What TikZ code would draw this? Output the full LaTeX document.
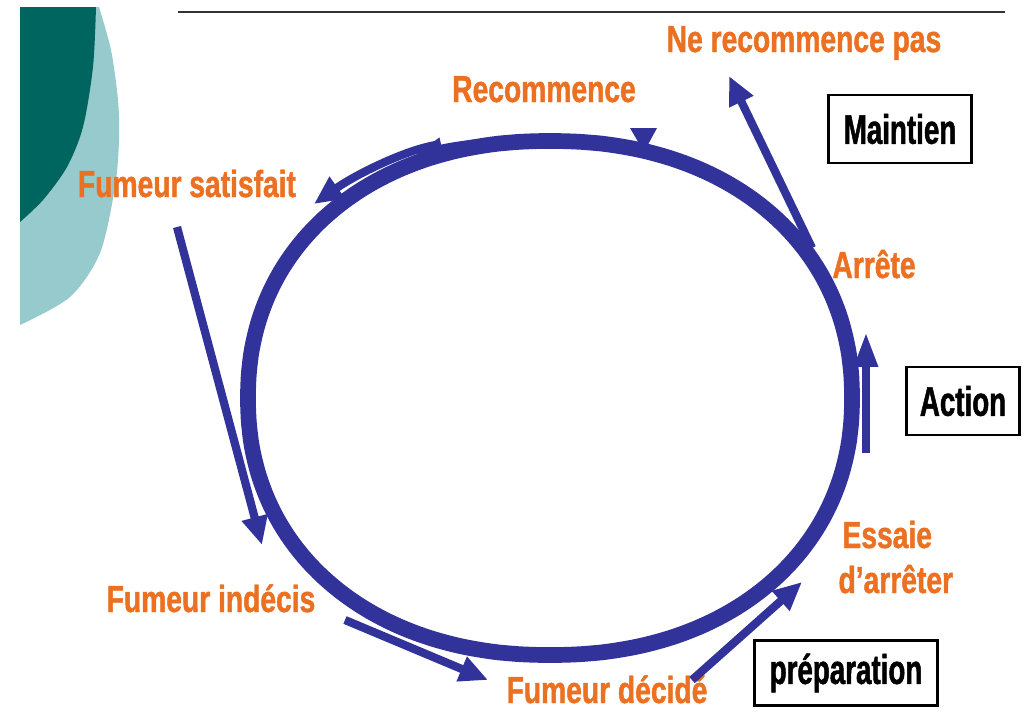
\documentclass[tikz,border=0pt]{standalone}
\usepackage{fontspec}
\setmainfont{Liberation Sans}
\newfontfamily\stagefont[FakeStretch=0.75, FakeBold=1.2]{Liberation Sans}
\newfontfamily\boxfont[FakeStretch=0.67, FakeBold=1.2]{Liberation Sans}
\usetikzlibrary{arrows.meta}
\definecolor{cycleblue}{RGB}{50,50,155}
\definecolor{stageorange}{RGB}{236,112,34}
\definecolor{darkteal}{RGB}{0,100,95}
\definecolor{lightteal}{RGB}{150,202,204}

\begin{document}
\begin{tikzpicture}[x=0.014cm, y=-0.014cm,
	stage/.style={text=stageorange, font=\stagefont\bfseries\fontsize{15}{18}\selectfont, inner sep=0pt, anchor=base},
	phase/.style={draw, line width=1.1pt, font=\boxfont\bfseries\fontsize{16.5}{19}\selectfont, inner sep=0pt},
	ring/.style={draw=cycleblue, line width=0.22cm, line join=round},
	flow/.style={draw=cycleblue, line width=0.115cm, -{Triangle[length=0.4cm, width=0.35cm]}}]
	\useasboundingbox (0,0) rectangle (1025,713);
	\fill[lightteal] (20,7) -- plot[smooth] coordinates {(99,7) (111,50) (118,100) (119,140) (115,187) (100,253) (70,297) (20,325)} -- cycle;
	\fill[darkteal] (20,7) -- plot[smooth] coordinates {(96,7) (93,67) (83,127) (67,167) (43,200) (20,222)} -- cycle;
	\draw[line width=0.8pt, black!80] (178,12) -- (1005,12);
	\node[stage] (nepas) at (804,52) {Ne recommence pas};
	\node[stage] (recommence) at (544,102) {Recommence};
	\node[stage] (satisfait) at (187,197) {Fumeur satisfait};
	\node[stage] (arrete) at (874,278) {Arrête};
	\node[stage, anchor=base west] (essaie) at (842,548) {Essaie};
	\node[stage, anchor=base west] (arreter) at (838,593) {d’arrêter};
	\node[stage] (indecis) at (211,612) {Fumeur indécis};
	\node[stage] (decide) at (607,703) {Fumeur décidé};
	\node[phase, minimum width=2.0cm, minimum height=0.95cm] (maintien) at (900,129) {Maintien};
	\node[phase, minimum width=1.58cm, minimum height=0.95cm] (action) at (963,401) {Action};
	\node[phase, minimum width=2.56cm, minimum height=0.92cm] (preparation) at (846,673) {préparation};
	\fill[cycleblue] (630,128) -- (657,128) -- (644,152) -- cycle;
	\draw[flow, -{Triangle[length=0.39cm, width=0.29cm]}] (600,140) .. controls (540,137) and (470,142) .. (415,155);
	\draw[ring] plot[domain=0.75:359.25, samples=240] ({550+302*sign(cos(\x))*abs(cos(\x))^0.93}, {398+257*sign(sin(\x))*abs(sin(\x))^0.93}) -- cycle;
	\coordinate (topstart) at (436,145);
	\coordinate (topend) at (314,204);
	\draw[flow] (topstart) .. controls (405,150) and (355,175) .. (topend);
	\coordinate (leftstart) at (177,227);
	\coordinate (leftend) at (262,545);
	\draw[flow] (leftstart) -- (leftend);
	\coordinate (bottomstart) at (345,620);
	\coordinate (bottomend) at (488,680);
	\draw[flow] (bottomstart) -- (bottomend);
	\coordinate (rightstart) at (692,680);
	\coordinate (rightend) at (802,582);
	\draw[flow] (rightstart) -- (rightend);
	\coordinate (upstart) at (866,453);
	\coordinate (upend) at (866,332);
	\draw[flow, -{Triangle[length=0.49cm, width=0.31cm]}] (upstart) -- (upend);
	\coordinate (quitstart) at (812,248);
	\coordinate (quitend) at (729,76);
	\draw[flow] (quitstart) -- (quitend);
\end{tikzpicture}
\end{document}
